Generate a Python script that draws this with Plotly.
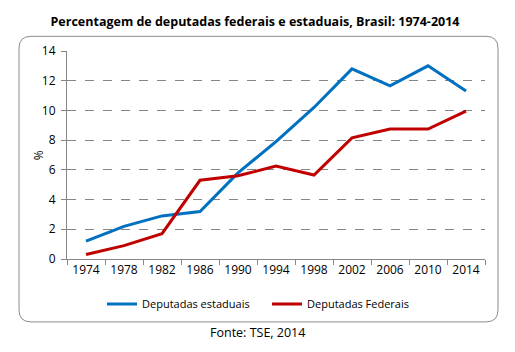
import plotly.graph_objects as go

anos = ["1974", "1978", "1982", "1986", "1990", "1994", "1998", "2002", "2006", "2010", "2014"]
estaduais = [1.2, 2.2, 2.9, 3.2, 5.8, 7.9, 10.2, 12.8, 11.65, 13.0, 11.3]
federais = [0.3, 0.9, 1.7, 5.3, 5.6, 6.25, 5.65, 8.15, 8.75, 8.75, 9.95]

W, H = 515, 352
L, R, T, B = 67, 485, 50.7, 259.0

def px(x):
    return (x - L) / (R - L)

def py(y):
    return (B - y) / (B - T)

# rounded rectangle border (pixel coords -> paper)
x0, x1, y0, y1, r = 19, 498, 36, 322, 12
path = (
    f"M {px(x0 + r)},{py(y0)} L {px(x1 - r)},{py(y0)} "
    f"Q {px(x1)},{py(y0)} {px(x1)},{py(y0 + r)} "
    f"L {px(x1)},{py(y1 - r)} Q {px(x1)},{py(y1)} {px(x1 - r)},{py(y1)} "
    f"L {px(x0 + r)},{py(y1)} Q {px(x0)},{py(y1)} {px(x0)},{py(y1 - r)} "
    f"L {px(x0)},{py(y0 + r)} Q {px(x0)},{py(y0)} {px(x0 + r)},{py(y0)} Z"
)

fig = go.Figure()
fig.add_trace(go.Scatter(x=anos, y=estaduais, mode="lines", name="Deputadas estaduais",
                         line=dict(color="#0070C0", width=3)))
fig.add_trace(go.Scatter(x=anos, y=federais, mode="lines", name="Deputadas Federais",
                         line=dict(color="#C00000", width=3)))

fig.update_layout(
    width=W, height=H,
    margin=dict(l=L, r=W - R, t=T, b=H - B),
    paper_bgcolor="white", plot_bgcolor="white",
    font=dict(family="Open Sans, sans-serif", size=11, color="#000000"),
    title=dict(text="<b>Percentagem de deputadas federais e estaduais, Brasil: 1974-2014</b>",
               x=255 / W, xref="container", xanchor="center", y=1 - 22 / H, yanchor="middle",
               font=dict(size=12.5, color="#000000")),
    showlegend=True,
    legend=dict(orientation="h", x=px(267), xanchor="center", y=py(304), yanchor="middle",
                font=dict(size=11), itemwidth=30, tracegroupgap=0,
                entrywidth=120, entrywidthmode="pixels"),
    shapes=[dict(type="path", path=path, xref="paper", yref="paper",
                 line=dict(color="#8c8c8c", width=1), layer="below")],
    annotations=[
        dict(text="Fonte: TSE, 2014", x=px(257), xref="paper", y=py(333), yref="paper",
             showarrow=False, xanchor="center", yanchor="middle",
             font=dict(size=12.5, color="#000000")),
        dict(text="%", x=px(38), xref="paper", y=py(155), yref="paper", textangle=-90,
             showarrow=False, xanchor="center", yanchor="middle",
             font=dict(size=12, color="#000000")),
    ],
)

fig.update_xaxes(type="category", tickson="boundaries", ticks="outside", ticklen=5,
                 tickcolor="#868686", showline=True, linecolor="#868686", linewidth=1,
                 showgrid=False, range=[-0.5, 10.5], tickfont=dict(size=12))
fig.update_yaxes(range=[0, 14], dtick=2, ticks="outside", ticklen=5, tickcolor="#868686",
                 showline=True, linecolor="#868686", linewidth=1, ticklabelstandoff=3,
                 showgrid=True, gridcolor="#868686", griddash="dash", gridwidth=1,
                 zeroline=False, tickfont=dict(size=12))

fig.write_html("out.html")
